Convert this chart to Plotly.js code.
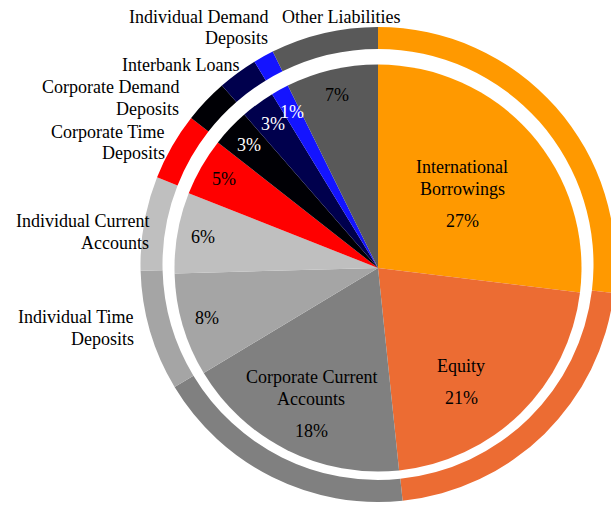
<!DOCTYPE html>
<html>
<head>
<meta charset="utf-8">
<script src="https://cdn.plot.ly/plotly-3.0.1.min.js"></script>
<style>
  html, body { margin: 0; padding: 0; overflow: hidden; background: #fff; }
  #chart { width: 640px; height: 505px; }
  text.annotation-text, text.annotation-text tspan {
    font-family: "Liberation Serif", "Times New Roman", serif !important;
  }
</style>
</head>
<body>
<div id="chart"></div>
<script>
// ---- data ----
const categories = [
  'International Borrowings',
  'Equity',
  'Corporate Current Accounts',
  'Individual Time Deposits',
  'Individual Current Accounts',
  'Corporate Time Deposits',
  'Corporate Demand Deposits',
  'Interbank Loans',
  'Individual Demand Deposits',
  'Other Liabilities'
];
const values = [26.9, 21.4, 18.0, 8.2, 6.4, 4.6, 3.0, 2.7, 1.4, 7.3];
const colors = ['#FF9900', '#EC6C33', '#808080', '#A5A5A5', '#BFBFBF',
                '#FF0000', '#000005', '#00004D', '#1414FF', '#595959'];
const pctColors = ['#000', '#000', '#000', '#000', '#000',
                   '#000', '#fff', '#fff', '#fff', '#000'];

// ---- geometry / styling ----
const W = 640, H = 505;
const INNER = {cx: 378, cy: 268, r: 203.5};
const RING = {cx: 378, cy: 264.5, r: 237.5, rIn: 215.5};
const FONT = 'Liberation Serif';
const FS = 18;
const LINE = 21.8;      // line step of wrapped labels
const PCT_GAP = 32;     // step from last label line to percentage
const bigSlices = {0: {x: 462, y0: 167.1}, 1: {x: 461.3, y0: 365.5}, 2: {x: 311.3, y0: 377.1}};
const outsideLabels = {
  3: {x: 134, y0: 317.1, anchor: 'right'},
  4: {x: 149, y0: 221.5, anchor: 'right'},
  5: {x: 165, y0: 131.5, anchor: 'right'},
  6: {x: 179, y0: 87.1, anchor: 'right'},
  7: {x: 239, y0: 64.8, anchor: 'right'},
  8: {x: 268, y0: 16.5, anchor: 'right'},
  9: {x: 282, y0: 16.5, anchor: 'left'}
};
const PCT_R = 0.875;

function domainOf(g) {
  return {
    x: [(g.cx - g.r) / W, (g.cx + g.r) / W],
    y: [1 - (g.cy + g.r) / H, 1 - (g.cy - g.r) / H]
  };
}
function wrap(label, maxLen) {
  const words = label.split(' ');
  const out = [];
  let cur = '';
  words.forEach(w => {
    if (!cur) cur = w;
    else if ((cur + ' ' + w).length <= maxLen) cur += ' ' + w;
    else { out.push(cur); cur = w; }
  });
  if (cur) out.push(cur);
  return out;
}

const total = values.reduce((a, b) => a + b, 0);
const pctText = values.map(v => Math.round(v / total * 100) + '%');

const annotations = [];
function addAnn(px, py, text, xanchor, color) {
  annotations.push({
    xref: 'paper', yref: 'paper', x: px / W, y: 1 - py / H,
    xanchor: xanchor, yanchor: 'middle', align: xanchor === 'center' ? 'center' : xanchor,
    text: text, showarrow: false, borderpad: 0, borderwidth: 0,
    font: {family: FONT, size: FS, color: color}
  });
}

let cum = 0;
values.forEach((v, i) => {
  const mid = (cum + v / 2) / total * 2 * Math.PI;  // clockwise from 12 o'clock
  cum += v;
  if (bigSlices[i]) {
    const b = bigSlices[i];
    const lines = wrap(categories[i], 18);
    lines.forEach((t, k) => addAnn(b.x, b.y0 + k * LINE, t, 'center', pctColors[i]));
    addAnn(b.x, b.y0 + (lines.length - 1) * LINE + PCT_GAP, pctText[i], 'center', pctColors[i]);
  } else {
    const px = INNER.cx + PCT_R * INNER.r * Math.sin(mid);
    const py = INNER.cy - PCT_R * INNER.r * Math.cos(mid);
    addAnn(px, py, pctText[i], 'center', pctColors[i]);
  }
  if (outsideLabels[i]) {
    const o = outsideLabels[i];
    wrap(categories[i], 18).forEach((t, k) => addAnn(o.x, o.y0 + k * LINE, t, o.anchor, '#000'));
  }
});

const ringTrace = {
  type: 'pie', labels: categories, values: values,
  marker: {colors: colors, line: {width: 0}},
  hole: RING.rIn / RING.r, sort: false, direction: 'clockwise', rotation: 0,
  textinfo: 'none', hoverinfo: 'label+percent', showlegend: false,
  domain: domainOf(RING)
};
const innerTrace = {
  type: 'pie', labels: categories, values: values,
  marker: {colors: colors, line: {width: 0}},
  sort: false, direction: 'clockwise', rotation: 0,
  textinfo: 'none', hoverinfo: 'label+percent', showlegend: false,
  domain: domainOf(INNER)
};

Plotly.newPlot('chart', [ringTrace, innerTrace], {
  width: W, height: H,
  margin: {l: 0, r: 0, t: 0, b: 0, pad: 0},
  paper_bgcolor: '#fff', plot_bgcolor: '#fff',
  showlegend: false,
  font: {family: FONT, size: FS, color: '#000'},
  annotations: annotations
}, {displayModeBar: false});
</script>
</body>
</html>
